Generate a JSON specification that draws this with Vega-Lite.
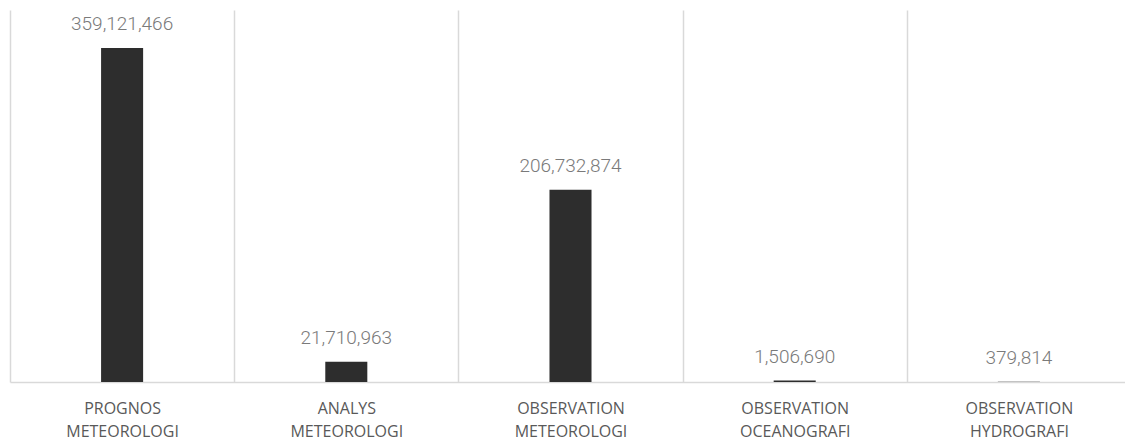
{
  "$schema": "https://vega.github.io/schema/vega-lite/v6.json",
  "width": 1115,
  "height": 372,
  "autosize": "none",
  "padding": {"left": 10, "top": 10, "right": 0, "bottom": 64},
  "background": "#ffffff",
  "data": {
    "values": [
      {"kategori": "PROGNOS METEOROLOGI", "varde": 359121466},
      {"kategori": "ANALYS METEOROLOGI", "varde": 21710963},
      {"kategori": "OBSERVATION METEOROLOGI", "varde": 206732874},
      {"kategori": "OBSERVATION OCEANOGRAFI", "varde": 1506690},
      {"kategori": "OBSERVATION HYDROGRAFI", "varde": 379814}
    ]
  },
  "encoding": {
    "x": {
      "field": "kategori",
      "type": "nominal",
      "sort": null,
      "scale": {"paddingInner": 0, "paddingOuter": 0, "range": [0, 1121]},
      "axis": {
        "title": null,
        "labelAngle": 0,
        "ticks": false,
        "grid": true,
        "gridColor": "#d9d9d9",
        "gridWidth": 1.5,
        "tickBand": "extent",
        "domainColor": "#d9d9d9",
        "domainWidth": 1.5,
        "labelExpr": "split(datum.label, ' ')",
        "labelFont": "Open Sans",
        "labelFontSize": 16,
        "labelColor": "#595959",
        "labelPadding": 18,
        "labelLineHeight": 23,
        "labelBaseline": "top"
      }
    },
    "y": {
      "field": "varde",
      "type": "quantitative",
      "scale": {"domain": [0, 400000000], "nice": false},
      "axis": null
    }
  },
  "layer": [
    {
      "mark": {"type": "bar", "width": {"band": 0.1875}, "fill": "#2d2d2d"}
    },
    {
      "mark": {"type": "text", "baseline": "bottom", "align": "center", "dy": -14, "font": "Roboto", "fontWeight": 300, "fontSize": 19, "color": "#7a7a7a"},
      "encoding": {
        "text": {"field": "varde", "type": "quantitative", "format": ","}
      }
    }
  ],
  "config": {"view": {"stroke": null}}
}
